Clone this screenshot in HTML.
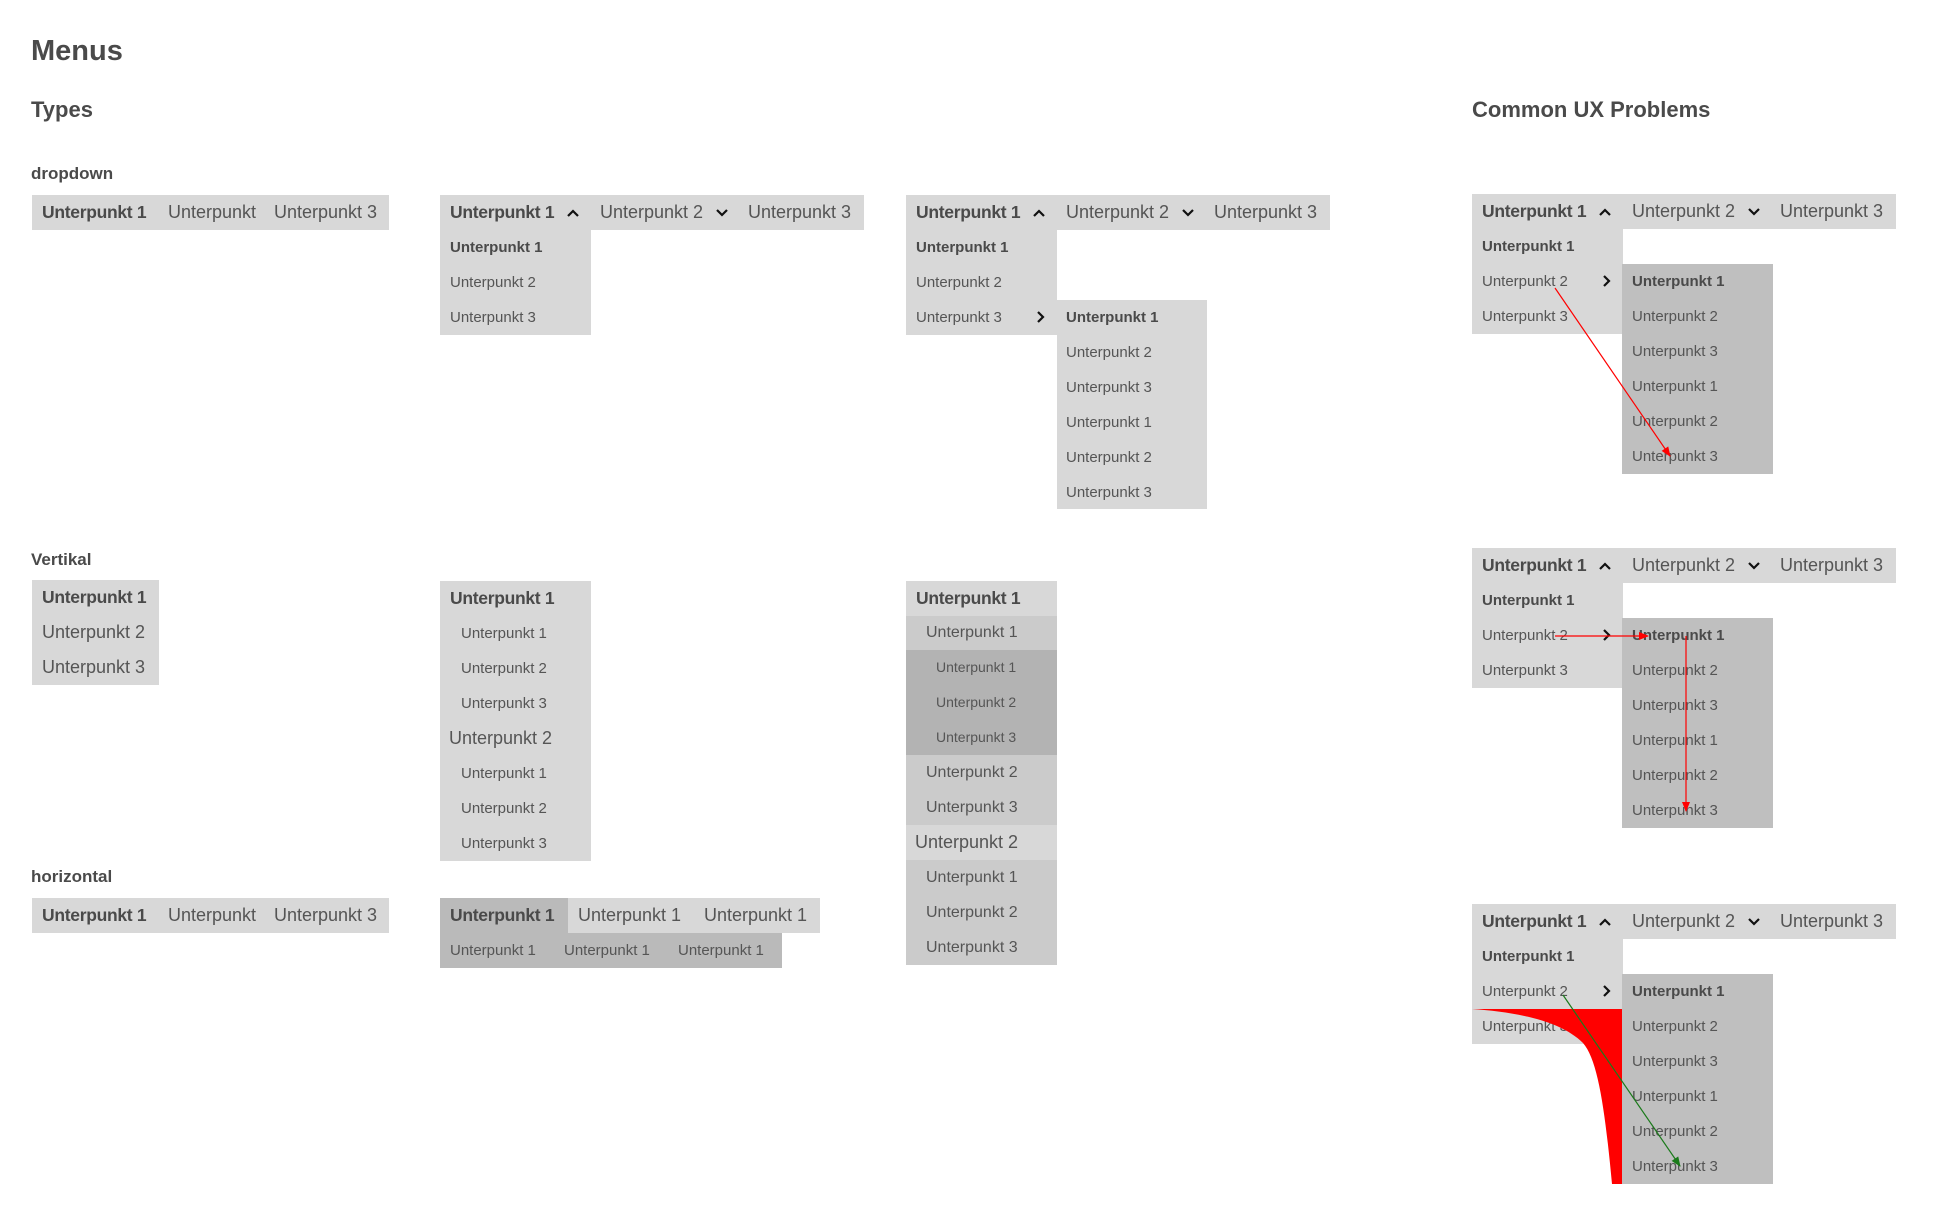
<!DOCTYPE html>
<html><head><meta charset="utf-8">
<style>
body{margin:0;width:1949px;height:1226px;background:#fff;position:relative;overflow:hidden;font-family:"Liberation Sans",sans-serif;color:#555}
.b{position:absolute;background:#d8d8d8}
.d{position:absolute;background:#bfbfbf}
.t{position:absolute;white-space:nowrap;font-size:18px;line-height:35px;color:#555}
.t.bo{font-size:17.5px;letter-spacing:-0.3px}
.s{position:absolute;white-space:nowrap;font-size:15px;line-height:35px;color:#555}
.bo{font-weight:bold;color:#4a4a4a}
h1,h2,h3{position:absolute;margin:0;font-weight:bold;color:#4a4a4a;white-space:nowrap}
</style></head><body>
<h1 style="left:31px;top:35px;font-size:29px">Menus</h1>
<h2 style="left:31px;top:97px;font-size:22px">Types</h2>
<h2 style="left:1472px;top:97px;font-size:22px">Common UX Problems</h2>
<h3 style="left:31px;top:164px;font-size:17px">dropdown</h3>
<h3 style="left:31px;top:550px;font-size:17px">Vertikal</h3>
<h3 style="left:31px;top:867px;font-size:17px">horizontal</h3>

<!-- Type1 -->
<div class="b" style="left:32px;top:195px;width:357px;height:35px"></div>
<div class="t bo" style="left:42px;top:195px">Unterpunkt 1</div>
<div class="t" style="left:168px;top:195px">Unterpunkt</div>
<div class="t" style="left:274px;top:195px">Unterpunkt 3</div>

<!-- Type2 -->
<div class="b" style="left:440px;top:195px;width:424px;height:35px"></div>
<div class="t bo" style="left:450px;top:195px">Unterpunkt 1</div>
<div class="t" style="left:600px;top:195px">Unterpunkt 2</div>
<div class="t" style="left:748px;top:195px">Unterpunkt 3</div>
<div class="b" style="left:440px;top:230px;width:151px;height:105px"></div>
<div class="s bo" style="left:450px;top:230px">Unterpunkt 1</div>
<div class="s" style="left:450px;top:265px">Unterpunkt 2</div>
<div class="s" style="left:450px;top:300px">Unterpunkt 3</div>

<!-- Type3 -->
<div class="b" style="left:906px;top:195px;width:424px;height:35px"></div>
<div class="t bo" style="left:916px;top:195px">Unterpunkt 1</div>
<div class="t" style="left:1066px;top:195px">Unterpunkt 2</div>
<div class="t" style="left:1214px;top:195px">Unterpunkt 3</div>
<div class="b" style="left:906px;top:230px;width:151px;height:105px"></div>
<div class="s bo" style="left:916px;top:230px">Unterpunkt 1</div>
<div class="s" style="left:916px;top:265px">Unterpunkt 2</div>
<div class="s" style="left:916px;top:300px">Unterpunkt 3</div>
<div class="b" style="left:1057px;top:300px;width:150px;height:209px"></div>
<div class="s bo" style="left:1066px;top:300px">Unterpunkt 1</div>
<div class="s" style="left:1066px;top:335px">Unterpunkt 2</div>
<div class="s" style="left:1066px;top:370px">Unterpunkt 3</div>
<div class="s" style="left:1066px;top:405px">Unterpunkt 1</div>
<div class="s" style="left:1066px;top:440px">Unterpunkt 2</div>
<div class="s" style="left:1066px;top:475px">Unterpunkt 3</div>

<!-- V1 -->
<div class="b" style="left:32px;top:580px;width:127px;height:105px"></div>
<div class="t bo" style="left:42px;top:580px">Unterpunkt 1</div>
<div class="t" style="left:42px;top:615px">Unterpunkt 2</div>
<div class="t" style="left:42px;top:650px">Unterpunkt 3</div>

<!-- V2 -->
<div class="b" style="left:440px;top:581px;width:151px;height:280px"></div>
<div class="t bo" style="left:450px;top:581px">Unterpunkt 1</div>
<div class="s" style="left:461px;top:616px">Unterpunkt 1</div>
<div class="s" style="left:461px;top:651px">Unterpunkt 2</div>
<div class="s" style="left:461px;top:686px">Unterpunkt 3</div>
<div class="t" style="left:449px;top:721px">Unterpunkt 2</div>
<div class="s" style="left:461px;top:756px">Unterpunkt 1</div>
<div class="s" style="left:461px;top:791px">Unterpunkt 2</div>
<div class="s" style="left:461px;top:826px">Unterpunkt 3</div>

<!-- V3 -->
<div class="b" style="left:906px;top:581px;width:151px;height:35px"></div>
<div class="b" style="left:906px;top:616px;width:151px;height:34px;background:#cbcbcb"></div>
<div class="b" style="left:906px;top:650px;width:151px;height:105px;background:#b3b3b3"></div>
<div class="b" style="left:906px;top:755px;width:151px;height:70px;background:#cbcbcb"></div>
<div class="b" style="left:906px;top:825px;width:151px;height:35px"></div>
<div class="b" style="left:906px;top:860px;width:151px;height:105px;background:#cbcbcb"></div>
<div class="t bo" style="left:916px;top:581px">Unterpunkt 1</div>
<div class="s" style="left:926px;top:615px;font-size:16px">Unterpunkt 1</div>
<div class="s" style="left:936px;top:650px;font-size:14px">Unterpunkt 1</div>
<div class="s" style="left:936px;top:685px;font-size:14px">Unterpunkt 2</div>
<div class="s" style="left:936px;top:720px;font-size:14px">Unterpunkt 3</div>
<div class="s" style="left:926px;top:755px;font-size:16px">Unterpunkt 2</div>
<div class="s" style="left:926px;top:790px;font-size:16px">Unterpunkt 3</div>
<div class="t" style="left:915px;top:825px">Unterpunkt 2</div>
<div class="s" style="left:926px;top:860px;font-size:16px">Unterpunkt 1</div>
<div class="s" style="left:926px;top:895px;font-size:16px">Unterpunkt 2</div>
<div class="s" style="left:926px;top:930px;font-size:16px">Unterpunkt 3</div>

<!-- H1 -->
<div class="b" style="left:32px;top:898px;width:357px;height:35px"></div>
<div class="t bo" style="left:42px;top:898px">Unterpunkt 1</div>
<div class="t" style="left:168px;top:898px">Unterpunkt</div>
<div class="t" style="left:274px;top:898px">Unterpunkt 3</div>

<!-- H2 -->
<div class="b" style="left:440px;top:898px;width:380px;height:35px"></div>
<div class="b" style="left:440px;top:898px;width:128px;height:35px;background:#bababa"></div>
<div class="b" style="left:440px;top:933px;width:342px;height:35px;background:#bababa"></div>
<div class="t bo" style="left:450px;top:898px">Unterpunkt 1</div>
<div class="t" style="left:578px;top:898px">Unterpunkt 1</div>
<div class="t" style="left:704px;top:898px">Unterpunkt 1</div>
<div class="s" style="left:450px;top:933px">Unterpunkt 1</div>
<div class="s" style="left:564px;top:933px">Unterpunkt 1</div>
<div class="s" style="left:678px;top:933px">Unterpunkt 1</div>

<!-- P1 -->
<div class="b" style="left:1472px;top:194px;width:424px;height:35px"></div>
<div class="t bo" style="left:1482px;top:194px">Unterpunkt 1</div>
<div class="t" style="left:1632px;top:194px">Unterpunkt 2</div>
<div class="t" style="left:1780px;top:194px">Unterpunkt 3</div>
<div class="b" style="left:1472px;top:229px;width:151px;height:105px"></div>
<div class="s bo" style="left:1482px;top:229px">Unterpunkt 1</div>
<div class="s" style="left:1482px;top:264px">Unterpunkt 2</div>
<div class="s" style="left:1482px;top:299px">Unterpunkt 3</div>
<div class="d" style="left:1622px;top:264px;width:151px;height:210px"></div>
<div class="s bo" style="left:1632px;top:264px">Unterpunkt 1</div>
<div class="s" style="left:1632px;top:299px">Unterpunkt 2</div>
<div class="s" style="left:1632px;top:334px">Unterpunkt 3</div>
<div class="s" style="left:1632px;top:369px">Unterpunkt 1</div>
<div class="s" style="left:1632px;top:404px">Unterpunkt 2</div>
<div class="s" style="left:1632px;top:439px">Unterpunkt 3</div>

<!-- P2 -->
<div class="b" style="left:1472px;top:548px;width:424px;height:35px"></div>
<div class="t bo" style="left:1482px;top:548px">Unterpunkt 1</div>
<div class="t" style="left:1632px;top:548px">Unterpunkt 2</div>
<div class="t" style="left:1780px;top:548px">Unterpunkt 3</div>
<div class="b" style="left:1472px;top:583px;width:151px;height:105px"></div>
<div class="s bo" style="left:1482px;top:583px">Unterpunkt 1</div>
<div class="s" style="left:1482px;top:618px">Unterpunkt 2</div>
<div class="s" style="left:1482px;top:653px">Unterpunkt 3</div>
<div class="d" style="left:1622px;top:618px;width:151px;height:210px"></div>
<div class="s bo" style="left:1632px;top:618px">Unterpunkt 1</div>
<div class="s" style="left:1632px;top:653px">Unterpunkt 2</div>
<div class="s" style="left:1632px;top:688px">Unterpunkt 3</div>
<div class="s" style="left:1632px;top:723px">Unterpunkt 1</div>
<div class="s" style="left:1632px;top:758px">Unterpunkt 2</div>
<div class="s" style="left:1632px;top:793px">Unterpunkt 3</div>

<!-- P3 -->
<div class="b" style="left:1472px;top:904px;width:424px;height:35px"></div>
<div class="t bo" style="left:1482px;top:904px">Unterpunkt 1</div>
<div class="t" style="left:1632px;top:904px">Unterpunkt 2</div>
<div class="t" style="left:1780px;top:904px">Unterpunkt 3</div>
<div class="b" style="left:1472px;top:939px;width:151px;height:105px"></div>
<div class="s bo" style="left:1482px;top:939px">Unterpunkt 1</div>
<div class="s" style="left:1482px;top:974px">Unterpunkt 2</div>
<div class="s" style="left:1482px;top:1009px">Unterpunkt 3</div>
<div class="d" style="left:1622px;top:974px;width:151px;height:210px"></div>
<div class="s bo" style="left:1632px;top:974px">Unterpunkt 1</div>
<div class="s" style="left:1632px;top:1009px">Unterpunkt 2</div>
<div class="s" style="left:1632px;top:1044px">Unterpunkt 3</div>
<div class="s" style="left:1632px;top:1079px">Unterpunkt 1</div>
<div class="s" style="left:1632px;top:1114px">Unterpunkt 2</div>
<div class="s" style="left:1632px;top:1149px">Unterpunkt 3</div>

<svg width="1949" height="1226" style="position:absolute;left:0;top:0" xmlns="http://www.w3.org/2000/svg">
<defs>
<marker id="ar" markerWidth="10" markerHeight="10" refX="9" refY="5" orient="auto" markerUnits="userSpaceOnUse"><path d="M0,1 L10,5 L0,9 Z" fill="#f00"/></marker>
<marker id="ag" markerWidth="10" markerHeight="10" refX="9" refY="5" orient="auto" markerUnits="userSpaceOnUse"><path d="M0,1 L10,5 L0,9 Z" fill="#1a7a1a"/></marker>
</defs>
<g fill="none" stroke="#111" stroke-width="2.2">
<polyline points="568,216 573,211 578,216"/><polyline points="717,210 722,215 727,210"/>
<polyline points="1034,216 1039,211 1044,216"/><polyline points="1183,210 1188,215 1193,210"/>
<polyline points="1038,312 1043,317 1038,322"/>
<polyline points="1600,215 1605,210 1610,215"/><polyline points="1749,209 1754,214 1759,209"/>
<polyline points="1604,276 1609,281 1604,286"/>
<polyline points="1600,569 1605,564 1610,569"/><polyline points="1749,563 1754,568 1759,563"/>
<polyline points="1604,630 1609,635 1604,640"/>
<polyline points="1600,925 1605,920 1610,925"/><polyline points="1749,919 1754,924 1759,919"/>
<polyline points="1604,986 1609,991 1604,996"/>
</g>
<line x1="1555" y1="288" x2="1670" y2="456" stroke="#f00" stroke-width="1.2" marker-end="url(#ar)"/>
<line x1="1555" y1="636" x2="1648" y2="636" stroke="#f00" stroke-width="1.2" marker-end="url(#ar)"/>
<line x1="1686" y1="636" x2="1686" y2="811" stroke="#f00" stroke-width="1.2" marker-end="url(#ar)"/>
<path d="M1472,1009 L1622,1009 L1622,1184 L1612,1184 C1605,1110 1598,1060 1583,1043 C1560,1020 1515,1012 1472,1009 Z" fill="#f00"/>
<line x1="1563" y1="995" x2="1680" y2="1166" stroke="#1a7a1a" stroke-width="1.2" marker-end="url(#ag)"/>
</svg>
</body></html>
